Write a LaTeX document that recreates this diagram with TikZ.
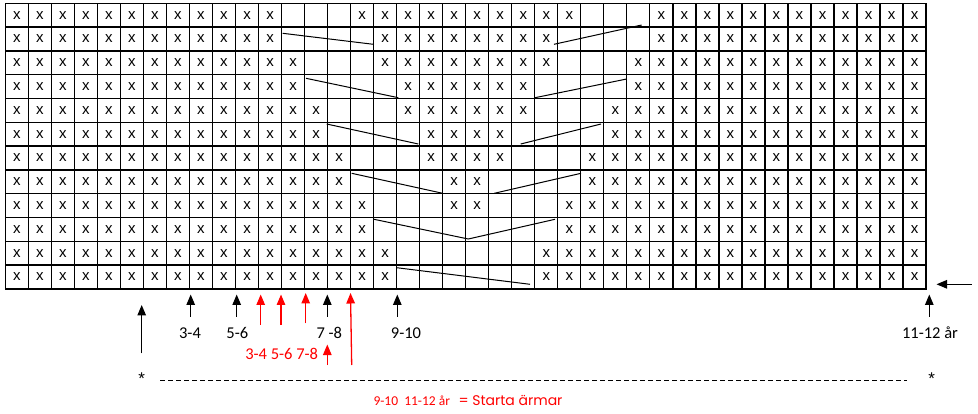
\documentclass[tikz,border=0pt]{standalone}
\usepackage{fontspec}
\setmainfont{Carlito}
\newfontfamily\cellfont{Liberation Sans}
\newfontfamily\geofont{Poppins}
\usetikzlibrary{arrows.meta}
\begin{document}
\begin{tikzpicture}[x=1pt,y=-1pt,
  gridline/.style={line width=1.25pt, line cap=rect},
  stitch/.style={font=\cellfont\fontsize{15}{15}\selectfont, inner sep=0pt},
  decline/.style={line width=1pt},
  blackarrow/.style={line width=1.3pt, -{Triangle[width=8.5pt,length=10.5pt]}},
  redarrow/.style={line width=1.3pt, red, -{Triangle[width=8.5pt,length=10.5pt]}},
  lbl/.style={font=\fontsize{16.5}{16.5}\selectfont, inner sep=0pt, anchor=base},
  redlbl/.style={lbl, text=red},
  star/.style={font=\cellfont\fontsize{17}{17}\selectfont, inner sep=0pt},
]
\path[use as bounding box] (0,0) rectangle (978,414);
\def\xo{5.3}\def\yo{3.3}\def\cw{23.02}\def\ch{23.8}
% grid
\foreach \i in {0,...,40}
  \draw[gridline] ({\xo+\cw*\i},\yo) -- ({\xo+\cw*\i},{\yo+\ch*12});
\foreach \j in {0,...,12}
  \draw[gridline] (\xo,{\yo+\ch*\j}) -- ({\xo+\cw*40},{\yo+\ch*\j});
% stitches
\foreach \r/\a/\b/\c/\d in {1/13/15/26/28, 2/13/16/25/28, 3/14/16/25/27, 4/14/17/24/27,
  5/15/17/24/26, 6/15/18/23/26, 7/16/18/23/25, 8/16/19/22/25, 9/17/19/22/24,
  10/17/24/0/-1, 11/18/23/0/-1, 12/18/23/0/-1} {
  \foreach \i in {1,...,40} {
    \pgfmathtruncatemacro\blank{((\i>=\a)&&(\i<=\b))||((\i>=\c)&&(\i<=\d))}
    \ifnum\blank=0
      \node[stitch] (s-\r-\i) at ({\xo+\cw*(\i-0.5)},{\yo+\ch*(\r-0.5)}) {x};
    \fi
  }
}
% decrease lines
\coordinate (a1) at (282.7,33.3);  \coordinate (a2) at (373.3,44.3);
\coordinate (b1) at (554,44.3);    \coordinate (b2) at (641.7,25);
\coordinate (c1) at (306,78.3);    \coordinate (c2) at (398.3,97.7);
\coordinate (d1) at (535,97.7);    \coordinate (d2) at (626.7,79);
\coordinate (e1) at (326.7,124);   \coordinate (e2) at (418.3,144);
\coordinate (f1) at (520.7,144);   \coordinate (f2) at (601,124);
\coordinate (g1) at (351.7,173.3); \coordinate (g2) at (442.7,193.3);
\coordinate (h1) at (494.3,193.3); \coordinate (h2) at (581,173.3);
\coordinate (i1) at (374,219.3);   \coordinate (i2) at (468.3,239);
\coordinate (i3) at (555,219.3);
\coordinate (k1) at (396.7,267.7); \coordinate (k2) at (530,284.3);
\draw[decline] (a1) -- (a2);
\draw[decline] (b1) -- (b2);
\draw[decline] (c1) -- (c2);
\draw[decline] (d1) -- (d2);
\draw[decline] (e1) -- (e2);
\draw[decline] (f1) -- (f2);
\draw[decline] (g1) -- (g2);
\draw[decline] (h1) -- (h2);
\draw[decline] (i1) -- (i2) -- (i3);
\draw[decline] (k1) -- (k2);
% labels
\node[lbl] (l34) at (190,338.5) {3-4};
\node[lbl] (l56) at (237.3,338.5) {5-6};
\node[lbl] (l78) at (329.3,338.5) {7 -8};
\node[lbl] (l910) at (406,338.5) {9-10};
\node[lbl] (l1112) at (930,338.5) {11-12 år};
\node[redlbl] (rl) at (281.7,359.5) {3-4 5-6 7-8};
\node[star] (st1) at (141.7,378.3) {*};
\node[star] (st2) at (931.7,378.3) {*};
% arrow coordinates
\coordinate (A0b) at (141.7,353.3); \coordinate (A0t) at (141.7,305);
\coordinate (A1b) at (190.7,316.7); \coordinate (A1t) at (190.7,294.5);
\coordinate (A2b) at (236.7,316.7); \coordinate (A2t) at (236.7,294.5);
\coordinate (A3b) at (327.3,316.7); \coordinate (A3t) at (327.3,294.5);
\coordinate (A4b) at (397.3,316.7); \coordinate (A4t) at (397.3,294.5);
\coordinate (A5b) at (929.3,316.7); \coordinate (A5t) at (929.3,294.5);
\coordinate (R1b) at (260.7,325);   \coordinate (R1t) at (260.7,294.5);
\coordinate (R2b) at (281,325);     \coordinate (R2t) at (281,294.5);
\coordinate (R3b) at (305.7,323.3); \coordinate (R3t) at (305.7,293);
\coordinate (R4b) at (351.7,365);   \coordinate (R4t) at (350.5,293);
\coordinate (R5b) at (327.3,365);   \coordinate (R5t) at (327.3,344.5);
\coordinate (Lt) at (971.7,284.3);  \coordinate (Lh) at (936.5,284.3);
\draw[blackarrow] (A0b) -- (A0t);
\draw[blackarrow] (A1b) -- (A1t);
\draw[blackarrow] (A2b) -- (A2t);
\draw[blackarrow] (A3b) -- (A3t);
\draw[blackarrow] (A4b) -- (A4t);
\draw[blackarrow] (A5b) -- (A5t);
\draw[blackarrow] (Lt) -- (Lh);
\draw[redarrow] (R1b) -- (R1t);
\draw[redarrow] (R2b) -- (R2t);
\draw[redarrow] (R3b) -- (R3t);
\draw[redarrow] (R4b) -- (R4t);
\draw[redarrow] (R5b) -- (R5t);
% dashed line
\coordinate (D1) at (160,380.3); \coordinate (D2) at (906.7,380.3);
\draw[line width=1pt, dash pattern=on 4.6pt off 3.4pt] (D1) -- (D2);
% bottom note
\node[inner sep=0pt, anchor=base west, text=red, font=\fontsize{13.5}{13.5}\selectfont] (n1) at (373.3,405) {9-10\ \ 11-12 år};
\node[inner sep=0pt, anchor=base west, text=red, font=\geofont\fontsize{14}{14}\selectfont] (n2) at (458.3,405) {= Starta ärmar};
\end{tikzpicture}
\end{document}
